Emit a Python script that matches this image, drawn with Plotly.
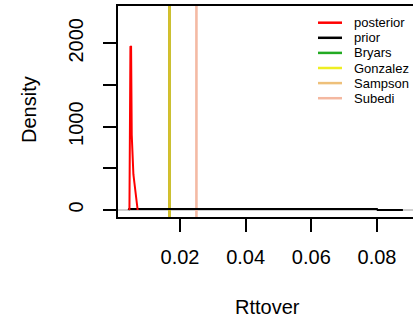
import plotly.graph_objects as go

# ---- data ----
post_x = [0.0046, 0.0049, 0.0051, 0.0053, 0.0056, 0.0058, 0.0061, 0.0063, 0.0066, 0.0068, 0.0071]
post_y = [0, 1965, 1960, 900, 450, 430, 330, 260, 180, 90, 0]

prior_x = [0.0043, 0.0045, 0.0800, 0.0802, 0.0879]
prior_y = [0, 13.3, 13.3, 0.5, 0]

ref_names = ["Bryars", "Gonzalez", "Sampson", "Subedi"]
ref_x = [0.0168, 0.0168, 0.0168, 0.0250]
ref_colors = ["rgba(34,160,34,1)", "rgba(235,230,30,0.9)", "rgba(225,150,60,0.45)", "rgba(244,186,164,1)"]

legend_names = ["posterior", "prior", "Bryars", "Gonzalez", "Sampson", "Subedi"]
legend_colors = ["#FF0000", "#000000", "#22AA22", "#EEEE22", "#EEC07A", "#F4B8A0"]

x_ticks = [0.02, 0.04, 0.06, 0.08]
x_ticktext = ["0.02", "0.04", "0.06", "0.08"]
y_ticks = [0, 500, 1000, 1500, 2000]
y_ticktext = ["0", "", "1000", "", "2000"]

x_range = [0.001115, 0.09097]
y_range = [-84, 2448]

FONT = "Liberation Sans, Arial, Helvetica, sans-serif"

fig = go.Figure()

# gray zero line
fig.add_trace(go.Scatter(x=x_range, y=[0, 0], mode="lines",
                         line=dict(color="#BEBEBE", width=1.5), showlegend=False, hoverinfo="skip"))

# reference vertical lines
for nm, xv, col in zip(ref_names, ref_x, ref_colors):
    fig.add_trace(go.Scatter(x=[xv, xv], y=y_range, mode="lines", name=nm,
                             line=dict(color=col, width=2.6), showlegend=False))

fig.add_trace(go.Scatter(x=prior_x, y=prior_y, mode="lines", name="prior",
                         line=dict(color="black", width=2), showlegend=False))
fig.add_trace(go.Scatter(x=post_x, y=post_y, mode="lines", name="posterior",
                         line=dict(color="#FF0000", width=2), showlegend=False))

# manual legend
leg_x0, leg_x1, leg_tx = 318, 342, 352
W, H = 413, 325
for i, (nm, col) in enumerate(zip(legend_names, legend_colors)):
    yp = 22.7 + i * 15.1
    fig.add_shape(type="line", xref="paper", yref="paper",
                  x0=(leg_x0 - 118) / (W - 118), x1=(leg_x1 - 118) / (W - 118),
                  y0=(217 - yp) / (217 - 6), y1=(217 - yp) / (217 - 6),
                  line=dict(color=col, width=2.5))
    fig.add_annotation(xref="paper", yref="paper", x=(leg_tx - 118) / (W - 118),
                       y=(217 - yp) / (217 - 6), text=nm, showarrow=False,
                       xanchor="left", yanchor="middle",
                       font=dict(family=FONT, size=13, color="black"))

# axis titles
fig.add_annotation(xref="paper", yref="paper", x=(267 - 118) / (W - 118), y=(217 - 307) / (217 - 6),
                   text="Rttover", showarrow=False, xanchor="center", yanchor="middle",
                   font=dict(family=FONT, size=20, color="black"))
fig.add_annotation(xref="paper", yref="paper", x=(29 - 118) / (W - 118), y=(217 - 110) / (217 - 6),
                   text="Density", showarrow=False, xanchor="center", yanchor="middle", textangle=-90,
                   font=dict(family=FONT, size=20, color="black"))

fig.update_layout(
    width=W, height=H,
    margin=dict(l=118, r=0, t=6, b=108),
    paper_bgcolor="white", plot_bgcolor="white",
    font=dict(family=FONT, size=20, color="black"),
    showlegend=False,
)
fig.update_xaxes(range=x_range, tickvals=x_ticks, ticktext=x_ticktext,
                 showgrid=False, zeroline=False, showline=True, mirror=True,
                 linecolor="black", linewidth=2, ticks="outside", ticklen=13, tickwidth=2,
                 tickcolor="black", ticklabelstandoff=8,
                 tickfont=dict(family=FONT, size=20, color="black"))
fig.update_yaxes(range=y_range, tickvals=y_ticks, ticktext=y_ticktext,
                 showgrid=False, zeroline=False, showline=True,
                 linecolor="black", linewidth=2, ticks="outside", ticklen=13, tickwidth=2,
                 tickcolor="black", tickangle=-90, ticklabelstandoff=12,
                 tickfont=dict(family=FONT, size=20, color="black"))

fig.write_html("out.html")
